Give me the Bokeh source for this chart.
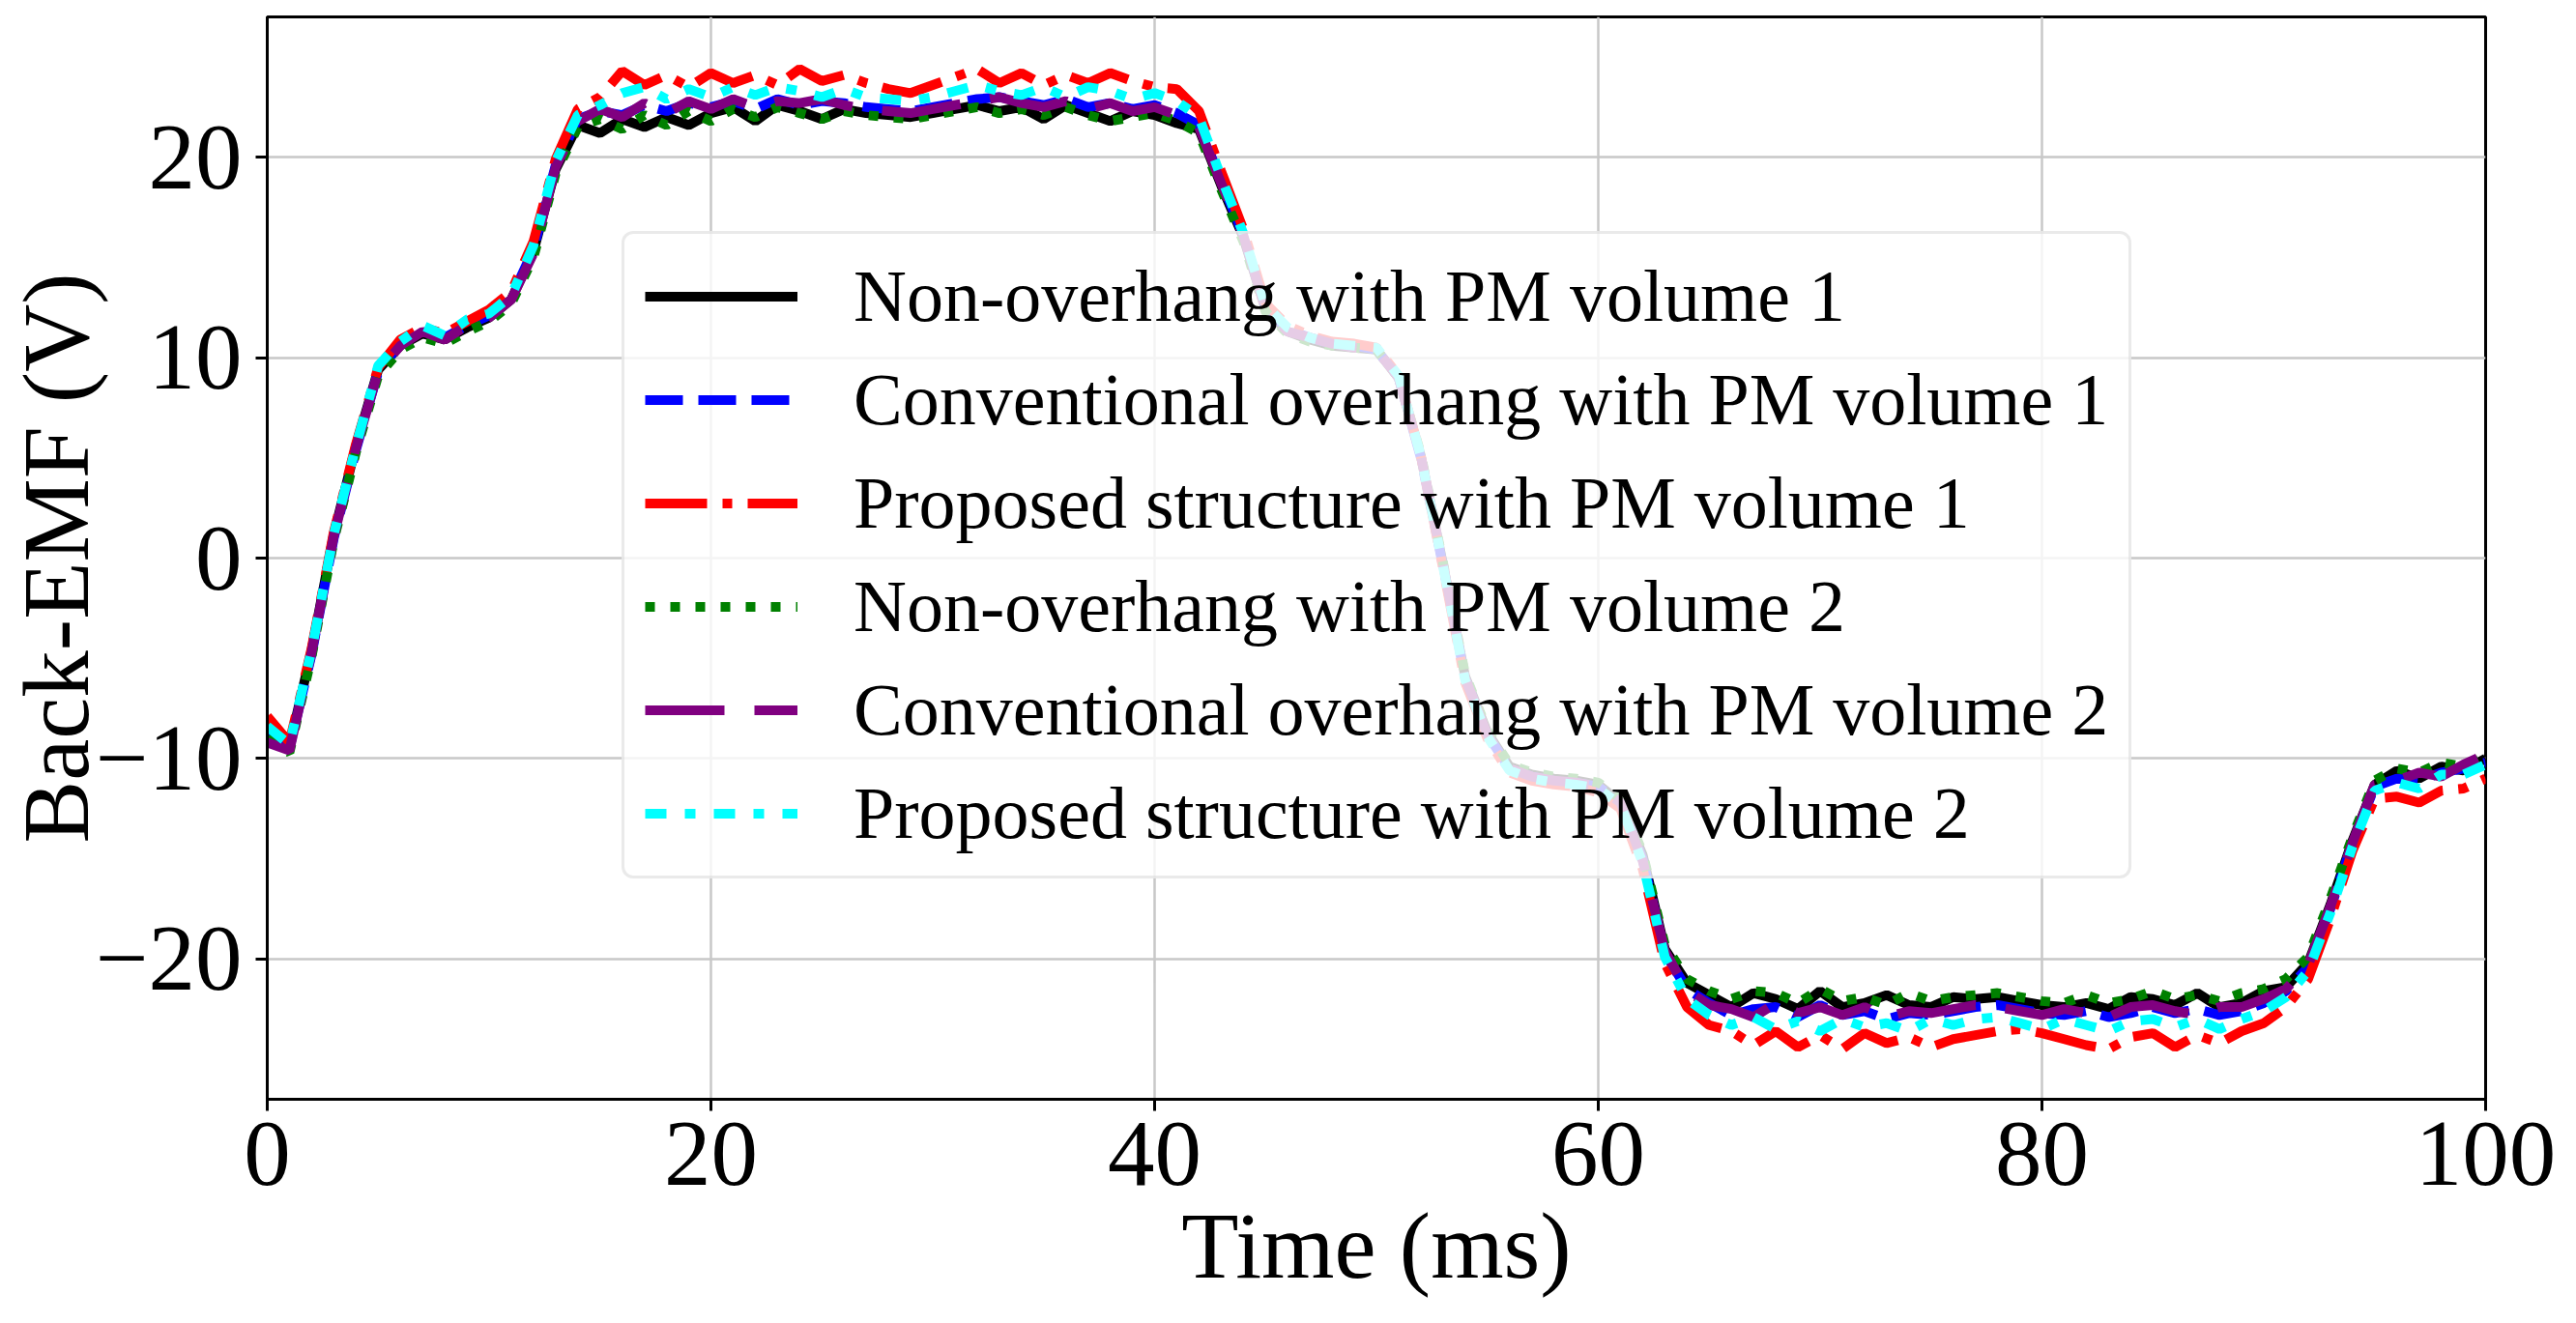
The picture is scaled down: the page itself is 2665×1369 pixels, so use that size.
from bokeh.plotting import figure
from bokeh.models import Legend, LegendItem, FixedTicker, Range1d, ColumnDataSource
from bokeh.embed import file_html
from bokeh.resources import INLINE

# ---------------- data ----------------
time_ms = list(range(0, 101))

non_overhang_v1 = [
    -8.8, -9.4, -4.6, 1.2, 5.6, 9.4, 10.6, 11.2, 10.9, 11.5, 12.0, 12.9, 15.3, 19.4, 21.6, 21.2,
    21.9, 21.5, 22.0, 21.6, 22.2, 22.5, 21.8, 22.6, 22.3, 21.9, 22.4, 22.2, 22.1, 22.0, 22.2,
    22.4, 22.6, 22.3, 22.5, 21.9, 22.6, 22.2, 21.8, 22.3, 22.1, 21.7,
    21.4, 18.6, 16.0, 12.4, 11.3, 10.9, 10.6, 10.5, 10.4, 9.0, 5.1, -0.3, -5.9, -8.7, -10.4, -10.8,
    -11.0, -11.1, -11.3, -12.2, -14.8, -19.5, -21.2, -21.8,
    -22.4, -21.7, -22.0, -22.5, -21.6, -22.4, -22.2, -21.8, -22.3, -22.4, -21.9, -22.0, -21.9,
    -22.1, -22.3, -22.4, -22.2, -22.5, -21.9, -22.0, -22.3, -21.7, -22.4, -22.2, -21.6,
    -21.4, -20.2, -17.3, -14.1, -11.3, -10.6, -11.0, -10.4, -10.6, -10.0]

conv_overhang_v1 = [
    -8.9, -9.5, -4.8, 1.0, 5.4, 9.3, 10.7, 11.3, 11.0, 11.6, 12.1, 13.0, 15.4, 19.6, 21.9, 22.3,
    22.1, 22.6, 22.3, 22.7, 22.5, 22.8, 22.4, 22.9, 22.6, 22.8, 22.7, 22.5, 22.4, 22.3, 22.5,
    22.7, 22.9, 23.0, 22.8, 22.6, 22.9, 22.5, 22.7, 22.4, 22.6, 22.2,
    21.6, 18.8, 16.1, 12.5, 11.4, 11.0, 10.7, 10.6, 10.4, 9.0, 5.0, -0.4, -6.0, -8.8, -10.5, -10.9,
    -11.1, -11.2, -11.4, -12.2, -15.0, -19.7, -21.5, -22.2,
    -22.8, -22.5, -22.4, -22.9, -22.3, -22.8, -22.6, -23.0, -22.7, -22.8, -22.6, -22.4, -22.3,
    -22.5, -22.7, -22.8, -22.6, -22.9, -22.7, -22.4, -22.7, -22.5, -22.8, -22.6, -22.2,
    -21.6, -20.4, -17.5, -14.2, -11.4, -11.0, -11.1, -10.7, -10.5, -10.2]

proposed_v1 = [
    -7.9, -9.2, -4.5, 1.3, 5.7, 9.5, 10.9, 11.5, 11.2, 11.8, 12.4, 13.3, 15.8, 19.9, 22.4, 23.0,
    24.3, 23.6, 24.1, 23.5, 24.2, 23.7, 24.1, 23.6, 24.4, 23.8, 24.1, 23.7, 23.4, 23.2, 23.6,
    24.0, 24.4, 23.7, 24.2, 23.6, 24.1, 23.7, 24.2, 23.8, 23.5, 23.4,
    22.3, 19.3, 16.4, 12.7, 11.6, 11.1, 10.8, 10.7, 10.5, 9.1, 5.1, -0.5, -6.2, -9.0, -10.7, -11.1,
    -11.3, -11.4, -11.7, -12.5, -15.5, -20.2, -22.4, -23.3,
    -23.6, -24.3, -23.6, -24.4, -23.8, -24.5, -23.7, -24.2, -23.9, -24.4, -24.0, -23.8, -23.6,
    -23.5, -23.7, -24.0, -24.3, -24.5, -23.9, -23.7, -24.4, -23.8, -24.2, -23.6, -23.2,
    -22.4, -21.0, -18.0, -14.6, -12.0, -11.9, -12.2, -11.6, -11.5, -11.0]

non_overhang_v2 = [
    -9.0, -9.7, -4.9, 0.9, 5.3, 9.1, 10.4, 11.0, 10.7, 11.3, 11.8, 12.7, 15.0, 19.2, 21.5, 21.9,
    21.4, 22.1, 21.6, 22.3, 21.8, 22.4, 22.0, 22.5, 22.2, 21.9, 22.3, 22.1, 22.0, 21.9, 22.1,
    22.3, 22.5, 22.2, 22.4, 22.1, 22.5, 22.1, 21.8, 22.0, 22.2, 21.8,
    21.2, 18.4, 15.8, 12.3, 11.2, 10.8, 10.6, 10.5, 10.4, 9.0, 5.2, -0.2, -5.8, -8.6, -10.3, -10.7,
    -10.9, -11.0, -11.2, -12.0, -14.7, -19.3, -21.0, -21.6,
    -22.0, -21.6, -21.7, -22.2, -21.5, -22.1, -21.9, -22.3, -21.7, -22.1, -21.9, -21.8, -21.7,
    -21.9, -22.1, -22.2, -21.8, -22.2, -22.0, -21.6, -22.0, -21.8, -22.1, -21.7, -21.5,
    -21.0, -19.9, -17.0, -13.9, -11.1, -10.5, -10.7, -10.2, -10.4, -9.9]

conv_overhang_v2 = [
    -9.2, -9.6, -4.7, 1.1, 5.5, 9.3, 10.6, 11.3, 10.9, 11.6, 12.0, 12.9, 15.2, 19.5, 21.8, 22.4,
    22.0, 22.7, 22.2, 22.8, 22.4, 22.9, 22.5, 22.8, 22.7, 22.9, 22.6, 22.4, 22.3, 22.2, 22.4,
    22.6, 22.8, 23.0, 22.7, 22.5, 22.8, 22.4, 22.7, 22.3, 22.5, 22.1,
    21.5, 18.7, 16.1, 12.4, 11.3, 11.0, 10.7, 10.5, 10.4, 9.0, 5.1, -0.3, -6.0, -8.8, -10.5, -10.9,
    -11.1, -11.2, -11.4, -12.2, -15.1, -19.6, -21.6, -22.3,
    -22.5, -22.9, -22.2, -22.7, -22.4, -22.8, -22.4, -22.9, -22.6, -22.7, -22.5, -22.3, -22.4,
    -22.6, -22.8, -22.5, -22.7, -22.9, -22.4, -22.3, -22.6, -22.8, -22.4, -22.4, -22.0,
    -21.5, -20.3, -17.4, -14.2, -11.3, -11.1, -10.7, -10.9, -10.3, -9.8]

proposed_v2 = [
    -8.4, -9.3, -4.6, 1.2, 5.6, 9.6, 10.8, 11.6, 11.1, 11.9, 12.2, 13.1, 15.6, 19.8, 22.1, 22.6,
    23.2, 23.5, 22.9, 23.4, 23.0, 23.5, 23.1, 23.5, 23.3, 23.0, 23.4, 23.0, 22.9, 22.8, 23.0,
    23.3, 23.6, 23.3, 23.1, 23.5, 23.0, 23.5, 23.3, 22.9, 23.2, 22.8,
    22.0, 19.0, 16.2, 12.6, 11.5, 11.0, 10.7, 10.6, 10.5, 9.1, 5.1, -0.4, -6.1, -8.9, -10.6, -11.0,
    -11.2, -11.3, -11.5, -12.3, -15.2, -19.9, -22.0, -22.8,
    -23.3, -22.9, -23.5, -23.1, -23.6, -23.0, -23.4, -23.2, -23.6, -23.0, -23.3, -23.0, -22.9,
    -23.2, -23.5, -23.0, -23.3, -23.6, -23.1, -23.0, -23.4, -23.0, -23.5, -23.0, -22.6,
    -21.9, -20.6, -17.7, -14.4, -11.6, -11.2, -11.5, -10.8, -10.8, -10.3]

series_labels = [
    "Non-overhang with PM volume 1",
    "Conventional overhang with PM volume 1",
    "Proposed structure with PM volume 1",
    "Non-overhang with PM volume 2",
    "Conventional overhang with PM volume 2",
    "Proposed structure with PM volume 2",
]
series_values = [non_overhang_v1, conv_overhang_v1, proposed_v1,
                 non_overhang_v2, conv_overhang_v2, proposed_v2]
series_colors = ["black", "blue", "red", "green", "purple", "cyan"]
series_dashes = ["solid", "39 16", "64 16 10 16", "10 16", "82 31", "22 19 11 19"]

x_ticks = [0, 20, 40, 60, 80, 100]
y_ticks = [-20, -10, 0, 10, 20]
y_tick_labels = {-20: "\u221220", -10: "\u221210", 0: "0", 10: "10", 20: "20"}
x_title = "Time (ms)"
y_title = "Back-EMF (V)"

# ---------------- figure ----------------
FONT = "Liberation Serif"
W, H = 2665, 1369
p = figure(width=W, height=H, output_backend="svg", toolbar_location=None,
           x_range=Range1d(0, 100), y_range=Range1d(-27, 27), title=None)
p.min_border_left = 276
p.min_border_right = 94
p.min_border_top = 17
p.min_border_bottom = 232
p.background_fill_color = "white"
p.border_fill_color = "white"
p.outline_line_color = "black"
p.outline_line_width = 3

p.xaxis.ticker = FixedTicker(ticks=x_ticks)
p.yaxis.ticker = FixedTicker(ticks=y_ticks)
p.yaxis.major_label_overrides = y_tick_labels
p.xaxis.axis_label = x_title
p.yaxis.axis_label = y_title

for ax in (p.xaxis[0], p.yaxis[0]):
    ax.axis_line_width = 3
    ax.axis_line_color = "black"
    ax.major_tick_line_width = 3
    ax.major_tick_out = 12
    ax.major_tick_in = 0
    ax.minor_tick_line_color = None
    ax.major_label_text_font = FONT
    ax.major_label_text_font_size = "97px"
    ax.major_label_text_color = "black"
    ax.axis_label_text_font = FONT
    ax.axis_label_text_font_size = "97px"
    ax.axis_label_text_font_style = "normal"
    ax.axis_label_text_color = "black"
p.xaxis.major_label_standoff = 12
p.xaxis.axis_label_standoff = 7
p.yaxis.major_label_standoff = 14
p.yaxis.axis_label_standoff = -16

p.grid.grid_line_color = "#c8c8c8"
p.grid.grid_line_width = 2.5

items = []
for label, vals, col, dash in zip(series_labels, series_values, series_colors, series_dashes):
    src = ColumnDataSource(data=dict(t=time_ms, v=vals))
    r = p.line("t", "v", source=src, line_color=col, line_width=10, line_dash=dash)
    items.append(LegendItem(label=label, renderers=[r]))

legend = Legend(items=items, location=(367, 228))
legend.label_text_font = FONT
legend.label_text_font_size = "76px"
legend.label_text_color = "black"
legend.glyph_width = 158
legend.glyph_height = 87
legend.label_height = 87
legend.spacing = 20
legend.padding = 21
legend.label_standoff = 58
legend.margin = 0
legend.border_line_color = "#d5d5d5"
legend.border_line_width = 3
legend.background_fill_color = "white"
legend.background_fill_alpha = 0.8
try:
    legend.border_radius = 12
except Exception:
    pass
p.add_layout(legend)

open("out.html", "w").write(file_html(p, INLINE))
